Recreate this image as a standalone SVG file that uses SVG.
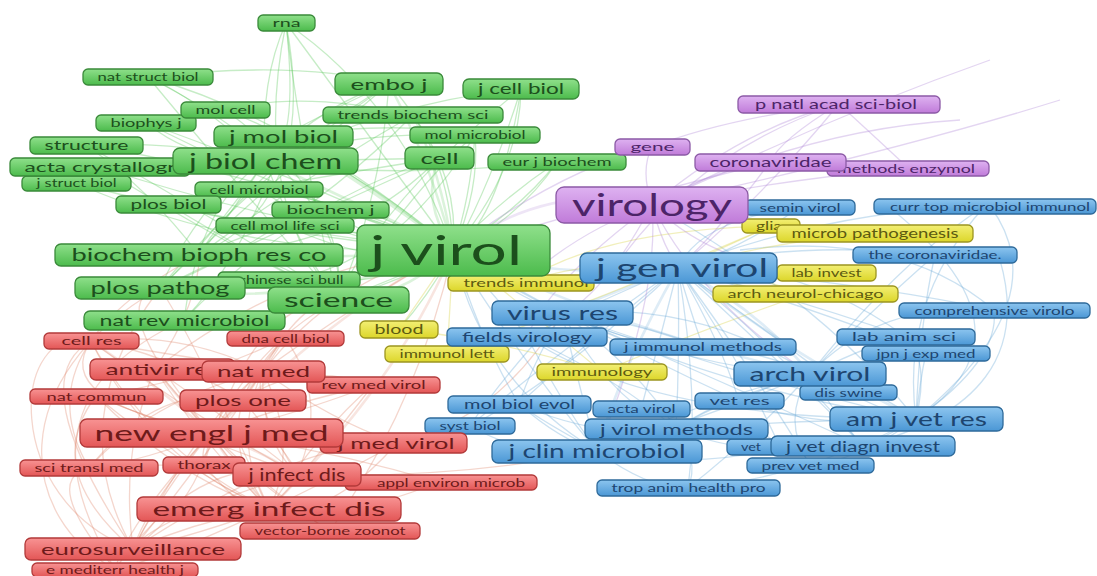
<svg xmlns="http://www.w3.org/2000/svg" width="1097" height="576" viewBox="0 0 1097 576">
<defs>
<linearGradient id="gg" x1="0" y1="0" x2="0" y2="1"><stop offset="0" stop-color="#8fe08b"/><stop offset="1" stop-color="#4cbb4c"/></linearGradient>
<linearGradient id="gr" x1="0" y1="0" x2="0" y2="1"><stop offset="0" stop-color="#f89393"/><stop offset="1" stop-color="#e35656"/></linearGradient>
<linearGradient id="gb" x1="0" y1="0" x2="0" y2="1"><stop offset="0" stop-color="#8cc5ef"/><stop offset="1" stop-color="#4b97d5"/></linearGradient>
<linearGradient id="gy" x1="0" y1="0" x2="0" y2="1"><stop offset="0" stop-color="#f3ef74"/><stop offset="1" stop-color="#dcd62a"/></linearGradient>
<linearGradient id="gp" x1="0" y1="0" x2="0" y2="1"><stop offset="0" stop-color="#deb2f1"/><stop offset="1" stop-color="#c07bd9"/></linearGradient>
</defs>
<style>
text{font-family:Lato,"Open Sans","Liberation Sans",sans-serif;text-anchor:middle}
rect{stroke-width:1.3}
.g rect{fill:url(#gg);stroke:#3a8a3a}.g text{fill:#1c4f1c}
.r rect{fill:url(#gr);stroke:#b23a3a}.r text{fill:#6e1a1a}
.b rect{fill:url(#gb);stroke:#2e6a9a}.b text{fill:#1d4570}
.y rect{fill:url(#gy);stroke:#9c9520}.y text{fill:#5c5a10}
.p rect{fill:url(#gp);stroke:#8c5aa6}.p text{fill:#4c2468}
#edges path{fill:none;stroke-width:1.3;stroke-opacity:0.35}
#edges .eg{stroke:#5cc85c}#edges .er{stroke:#e08a70}#edges .eb{stroke:#6aa8d8}#edges .ey{stroke:#d8d040}#edges .ep{stroke:#b088d8}
#edges .w{stroke-width:2.6;stroke-opacity:0.22}
</style>
<rect width="1097" height="576" fill="#ffffff"/>
<g id="edges">
<g class="eg">
<path d="M453 250 Q380 150 286 23"/><path d="M453 250 Q300 120 148 77"/><path class="w" d="M453 250 Q430 160 389 84"/><path d="M453 250 Q520 170 521 89"/>
<path d="M453 250 Q330 150 225 110"/><path d="M453 250 Q280 170 146 123"/><path class="w" d="M453 250 Q440 170 413 115"/><path d="M453 250 Q480 190 475 135"/>
<path d="M453 250 Q250 170 86 145"/><path class="w" d="M453 250 Q360 180 283 136"/><path class="w" d="M453 250 Q350 200 265 161"/><path d="M453 250 Q260 220 100 167"/>
<path class="w" d="M453 250 Q420 200 439 158"/><path d="M453 250 Q520 210 557 162"/><path d="M453 250 Q250 230 76 183"/><path d="M453 250 Q340 200 259 189"/>
<path d="M453 250 Q300 240 168 204"/><path d="M453 250 Q380 220 330 210"/><path class="w" d="M453 250 Q350 260 199 255"/><path d="M453 250 Q380 290 289 280"/>
<path class="w" d="M453 250 Q300 310 160 288"/><path class="w" d="M453 250 Q400 300 338 300"/><path d="M453 250 Q300 330 184 320"/><path d="M453 250 Q360 230 285 225"/>
<path d="M265 161 Q200 100 148 77"/><path d="M265 161 Q260 80 286 23"/><path d="M265 161 Q330 100 389 84"/><path d="M265 161 Q400 100 521 89"/>
<path d="M265 161 Q350 130 475 135"/><path d="M265 161 Q350 160 439 158"/><path d="M265 161 Q170 140 86 145"/><path d="M265 161 Q180 180 100 167"/>
<path d="M265 161 Q220 230 199 255"/><path d="M265 161 Q210 240 160 288"/><path d="M265 161 Q300 250 338 300"/><path d="M265 161 Q380 180 557 162"/>
<path d="M286 23 Q250 200 338 300"/><path d="M286 23 Q300 150 265 161"/><path d="M521 89 Q470 250 399 329"/><path d="M521 89 Q500 220 453 250"/>
<path d="M389 84 Q380 200 338 300"/><path d="M389 84 Q250 200 160 288"/><path d="M283 136 Q250 250 184 320"/><path d="M283 136 Q220 180 146 123"/>
<path d="M338 300 Q250 240 199 255"/><path d="M338 300 Q220 220 86 145"/><path d="M439 158 Q350 250 199 255"/><path d="M413 115 Q300 230 160 288"/>
<path d="M148 77 Q300 60 389 84"/><path d="M225 110 Q300 90 413 115"/><path d="M557 162 Q500 250 338 300"/><path d="M475 135 Q400 260 289 280"/>
<path d="M338 300 Q300 150 286 23"/><path d="M338 300 Q380 200 521 89"/><path d="M338 300 Q420 180 475 135"/><path d="M338 300 Q250 200 148 77"/>
<path d="M338 300 Q200 230 100 167"/><path d="M338 300 Q260 260 168 204"/><path d="M160 288 Q200 200 283 136"/><path d="M160 288 Q250 180 389 84"/>
<path d="M160 288 Q300 220 439 158"/><path d="M199 255 Q250 170 389 84"/><path d="M199 255 Q300 180 413 115"/><path d="M199 255 Q150 190 86 145"/>
<path d="M199 255 Q280 220 330 210"/><path d="M184 320 Q300 200 439 158"/><path d="M184 320 Q200 200 265 161"/><path d="M283 136 Q350 100 389 84"/>
<path d="M283 136 Q400 120 475 135"/><path d="M283 136 Q400 200 453 250"/><path d="M389 84 Q450 150 453 250"/><path d="M413 115 Q460 180 453 250"/>
<path d="M475 135 Q470 200 453 250"/><path d="M557 162 Q500 200 453 250"/><path d="M168 204 Q300 180 439 158"/><path d="M259 189 Q350 250 453 250"/>
<path d="M330 210 Q400 260 453 250"/><path d="M285 225 Q380 270 453 250"/><path d="M146 123 Q300 200 453 250"/><path d="M76 183 Q250 260 453 250"/>
<path d="M286 23 Q400 100 453 250"/><path d="M286 23 Q320 200 199 255"/><path d="M148 77 Q350 180 338 300"/><path d="M225 110 Q350 200 338 300"/>
</g>
<g class="er">
<path class="w" d="M211 433 Q150 380 91 341"/><path d="M211 433 Q250 380 285 338"/><path class="w" d="M211 433 Q180 400 155 369"/><path class="w" d="M211 433 Q240 400 263 371"/>
<path d="M211 433 Q300 400 373 385"/><path d="M211 433 Q150 420 96 396"/><path d="M211 433 Q150 460 89 468"/><path d="M211 433 Q200 450 204 465"/>
<path class="w" d="M211 433 Q260 450 297 474"/><path d="M211 433 Q330 450 438 482"/><path class="w" d="M211 433 Q240 480 269 509"/><path d="M211 433 Q280 500 330 531"/>
<path d="M211 433 Q150 500 133 549"/><path d="M211 433 Q130 520 115 569"/><path d="M211 433 Q300 420 397 443"/><path d="M269 509 Q150 450 91 341"/>
<path d="M269 509 Q200 420 155 369"/><path d="M269 509 Q180 480 96 396"/><path d="M269 509 Q320 430 373 385"/><path d="M269 509 Q350 470 397 443"/>
<path d="M269 509 Q180 540 133 549"/><path d="M269 509 Q160 560 115 569"/><path d="M269 509 Q200 420 285 338"/><path d="M269 509 Q230 440 263 371"/>
<path d="M297 474 Q200 420 91 341"/><path d="M297 474 Q250 400 263 371"/><path d="M297 474 Q330 400 285 338"/><path d="M297 474 Q150 520 133 549"/>
<path d="M297 474 Q180 460 89 468"/><path class="w" d="M211 433 Q350 300 453 250"/><path class="w" d="M269 509 Q400 380 453 250"/><path d="M133 549 Q60 420 160 288"/>
<path d="M115 569 Q10 400 184 320"/><path d="M89 468 Q20 350 199 255"/><path d="M133 549 Q20 380 91 341"/><path d="M297 474 Q450 480 597 451"/>
<path d="M397 443 Q500 420 562 313"/><path d="M243 400 Q160 350 91 341"/><path d="M243 400 Q300 360 373 385"/><path d="M243 400 Q180 460 133 549"/>
<path d="M243 400 Q320 280 453 250"/><path d="M263 371 Q360 300 453 250"/><path d="M155 369 Q300 260 453 250"/><path d="M330 531 Q420 400 453 250"/>
<path d="M89 468 Q160 380 243 400"/><path d="M96 396 Q200 480 269 509"/><path d="M373 385 Q300 480 269 509"/><path d="M204 465 Q250 300 338 300"/>
<path d="M133 549 Q300 440 397 443"/><path d="M211 433 Q100 300 160 288"/><path d="M115 569 Q200 450 297 474"/><path d="M285 338 Q200 380 96 396"/>
<path d="M263 371 Q180 330 91 341"/><path d="M263 371 Q200 420 133 549"/><path d="M263 371 Q260 440 297 474"/><path d="M263 371 Q300 450 269 509"/>
<path d="M263 371 Q330 420 397 443"/><path d="M155 369 Q120 450 133 549"/><path d="M155 369 Q200 440 269 509"/><path d="M155 369 Q230 420 297 474"/>
<path d="M133 549 Q200 520 269 509"/><path d="M133 549 Q200 500 211 433"/><path d="M133 549 Q40 470 96 396"/><path d="M115 569 Q40 480 89 468"/>
<path d="M89 468 Q150 400 263 371"/><path d="M96 396 Q180 430 297 474"/><path d="M91 341 Q200 360 373 385"/><path d="M91 341 Q150 460 269 509"/>
<path d="M285 338 Q220 440 133 549"/><path d="M373 385 Q280 420 211 433"/><path d="M397 443 Q330 520 269 509"/><path d="M438 482 Q350 520 269 509"/>
<path d="M330 531 Q250 480 211 433"/><path d="M204 465 Q250 520 269 509"/><path d="M243 400 Q300 470 297 474"/><path d="M211 433 Q50 400 91 341"/>
<path d="M133 549 C0 500 10 320 91 341"/><path d="M263 371 Q300 300 338 300"/><path d="M211 433 Q260 340 338 300"/><path d="M155 369 Q200 300 199 255"/>
<path d="M269 509 Q200 350 160 288"/><path d="M115 569 C20 520 0 380 160 288"/>
</g>
<g class="eb">
<path d="M678 268 Q740 250 800 207"/><path d="M678 268 Q830 210 985 206"/><path d="M678 268 Q800 240 935 255"/><path class="w" d="M678 268 Q620 290 562 313"/>
<path d="M678 268 Q850 280 994 310"/><path d="M678 268 Q600 300 527 337"/><path d="M678 268 Q800 300 906 337"/><path d="M678 268 Q690 310 703 347"/>
<path d="M678 268 Q820 310 926 353"/><path class="w" d="M678 268 Q760 310 810 374"/><path d="M678 268 Q780 340 848 392"/><path d="M678 268 Q590 340 519 404"/>
<path d="M678 268 Q660 340 641 409"/><path d="M678 268 Q720 340 739 401"/><path class="w" d="M678 268 Q800 360 916 419"/><path d="M678 268 Q560 350 470 426"/>
<path d="M678 268 Q680 350 676 429"/><path class="w" d="M678 268 Q620 370 597 451"/><path d="M678 268 Q740 360 780 447"/><path d="M678 268 Q790 370 863 446"/>
<path d="M678 268 Q760 380 810 465"/><path d="M678 268 Q700 400 688 488"/><path d="M810 374 Q880 300 994 310"/><path d="M810 374 Q880 340 906 337"/>
<path d="M810 374 Q860 380 916 419"/><path d="M810 374 Q840 420 863 446"/><path d="M810 374 Q780 420 810 465"/><path d="M810 374 Q700 420 597 451"/>
<path d="M810 374 Q720 400 676 429"/><path d="M810 374 Q700 370 562 313"/><path d="M810 374 Q900 260 985 206"/><path d="M810 374 Q750 440 688 488"/>
<path class="w" d="M453 250 Q560 280 678 268"/><path d="M453 250 Q520 300 562 313"/><path d="M453 250 Q500 300 527 337"/><path class="w" d="M453 250 Q620 330 810 374"/>
<path d="M453 250 Q520 360 597 451"/><path d="M453 250 Q480 340 519 404"/><path d="M453 250 Q650 380 916 419"/><path d="M453 250 Q600 350 703 347"/>
<path d="M562 313 Q580 390 597 451"/><path d="M562 313 Q640 370 676 429"/><path d="M562 313 Q720 380 863 446"/><path d="M916 419 Q1050 330 880 200"/>
<path d="M994 310 Q900 230 740 250"/><path d="M916 419 Q820 300 652 205"/><path d="M863 446 Q760 330 678 268"/><path d="M597 451 Q480 380 453 250"/>
<path d="M527 337 Q650 420 916 419"/><path d="M676 429 Q800 420 916 419"/><path d="M935 255 Q850 330 810 374"/><path d="M906 337 Q800 260 678 268"/>
<path d="M688 488 Q800 480 916 419"/><path d="M470 426 Q560 380 678 268"/><path d="M519 404 Q600 440 676 429"/><path d="M739 401 Q820 430 916 419"/>
<path d="M562 313 Q530 370 519 404"/><path d="M562 313 Q500 380 470 426"/><path d="M562 313 Q600 380 641 409"/><path d="M562 313 Q650 360 739 401"/>
<path d="M562 313 Q700 300 810 374"/><path d="M562 313 Q750 380 916 419"/><path d="M562 313 Q630 320 703 347"/><path d="M597 451 Q640 420 676 429"/>
<path d="M597 451 Q700 470 780 447"/><path d="M597 451 Q650 490 688 488"/><path d="M597 451 Q700 400 810 374"/><path d="M597 451 Q540 420 519 404"/>
<path d="M916 419 Q880 440 863 446"/><path d="M916 419 Q860 460 810 465"/><path d="M916 419 Q920 380 926 353"/><path d="M916 419 Q930 360 906 337"/>
<path d="M916 419 Q1000 360 994 310"/><path d="M916 419 Q920 320 935 255"/><path d="M916 419 Q900 300 985 206"/><path d="M676 429 Q750 460 863 446"/>
<path d="M676 429 Q700 460 688 488"/><path d="M676 429 Q760 420 780 447"/><path d="M676 429 Q720 400 739 401"/><path d="M848 392 Q880 410 916 419"/>
<path d="M739 401 Q780 380 810 374"/><path d="M703 347 Q760 350 810 374"/><path d="M527 337 Q560 400 597 451"/><path d="M527 337 Q620 380 676 429"/>
<path d="M519 404 Q560 440 597 451"/><path d="M470 426 Q530 460 597 451"/><path d="M678 268 Q700 220 800 207"/><path d="M863 446 Q1040 400 1000 260"/>
<path d="M916 419 Q1060 300 990 206"/>
</g>
<g class="ey">
<path d="M453 250 Q490 270 521 283"/><path d="M453 250 Q420 300 399 329"/><path d="M453 250 Q450 310 447 354"/><path d="M453 250 Q540 320 602 372"/>
<path d="M678 268 Q740 240 771 226"/><path d="M678 268 Q780 240 875 233"/><path d="M678 268 Q750 280 826 273"/><path d="M678 268 Q740 290 805 294"/>
<path d="M399 329 Q500 340 602 372"/><path d="M521 283 Q650 240 805 294"/><path d="M447 354 Q600 300 771 226"/><path d="M602 372 Q700 330 805 294"/>
<path d="M521 283 Q600 230 771 226"/>
</g>
<g class="ep">
<path d="M652 205 Q740 130 839 104"/><path d="M652 205 Q640 170 652 147"/><path d="M652 205 Q710 170 770 162"/><path d="M652 205 Q780 180 908 168"/>
<path class="w" d="M453 250 Q550 180 652 205"/><path d="M652 205 Q660 240 678 268"/><path d="M652 205 Q900 150 1060 100"/><path d="M652 205 Q800 130 960 120"/>
<path d="M839 104 Q700 150 620 260"/><path d="M652 205 Q600 300 562 313"/><path d="M652 205 Q700 300 810 374"/><path d="M839 104 Q760 200 678 268"/>
<path d="M652 147 Q560 170 453 250"/><path d="M770 162 Q620 200 453 250"/><path d="M652 205 Q820 120 990 60"/><path d="M652 205 Q660 300 597 451"/>
<path d="M652 205 Q580 230 521 283"/><path d="M652 205 Q550 280 527 337"/><path d="M652 205 Q720 270 826 273"/><path d="M839 104 Q900 160 908 168"/>
<path d="M839 104 Q780 140 770 162"/><path d="M652 147 Q720 120 839 104"/><path d="M770 162 Q720 230 678 268"/>
</g>
</g>
<g id="nodes">
<g id="n-rna" class="g"><rect x="258" y="15" width="57" height="16" rx="5"/><text x="286.5" y="27.2" font-size="12" textLength="28" lengthAdjust="spacingAndGlyphs">rna</text></g>
<g id="n-nat-struct-biol" class="g"><rect x="83" y="69" width="130" height="16" rx="5"/><text x="148" y="81.2" font-size="12" textLength="101" lengthAdjust="spacingAndGlyphs">nat struct biol</text></g>
<g id="n-biophys-j" class="g"><rect x="96" y="115" width="100" height="16" rx="5"/><text x="146" y="127.2" font-size="12" textLength="71" lengthAdjust="spacingAndGlyphs">biophys j</text></g>
<g id="n-mol-cell" class="g"><rect x="181" y="102" width="89" height="16" rx="5"/><text x="225.5" y="114.2" font-size="12" textLength="60" lengthAdjust="spacingAndGlyphs">mol cell</text></g>
<g id="n-trends-biochem-sci" class="g"><rect x="323" y="107" width="180" height="16" rx="5"/><text x="413" y="119.2" font-size="12" textLength="151" lengthAdjust="spacingAndGlyphs">trends biochem sci</text></g>
<g id="n-mol-microbiol" class="g"><rect x="410" y="127" width="130" height="16" rx="5"/><text x="475" y="139.2" font-size="12" textLength="101" lengthAdjust="spacingAndGlyphs">mol microbiol</text></g>
<g id="n-structure" class="g"><rect x="30" y="137" width="113" height="17" rx="5"/><text x="86.5" y="149.9" font-size="12.5" textLength="84" lengthAdjust="spacingAndGlyphs">structure</text></g>
<g id="n-eur-j-biochem" class="g"><rect x="488" y="154" width="138" height="16" rx="5"/><text x="557" y="166.2" font-size="12" textLength="109" lengthAdjust="spacingAndGlyphs">eur j biochem</text></g>
<g id="n-j-struct-biol" class="g"><rect x="22" y="176" width="109" height="15" rx="5"/><text x="76.5" y="187.4" font-size="11" textLength="80" lengthAdjust="spacingAndGlyphs">j struct biol</text></g>
<g id="n-cell-microbiol" class="g"><rect x="195" y="182" width="128" height="15" rx="5"/><text x="259" y="193.5" font-size="11.5" textLength="99" lengthAdjust="spacingAndGlyphs">cell microbiol</text></g>
<g id="n-plos-biol" class="g"><rect x="116" y="196" width="105" height="17" rx="5"/><text x="168.5" y="208.9" font-size="12.5" textLength="76" lengthAdjust="spacingAndGlyphs">plos biol</text></g>
<g id="n-biochem-j" class="g"><rect x="272" y="202" width="117" height="16" rx="5"/><text x="330.5" y="214.2" font-size="12" textLength="88" lengthAdjust="spacingAndGlyphs">biochem j</text></g>
<g id="n-cell-mol-life-sci" class="g"><rect x="216" y="218" width="138" height="15" rx="5"/><text x="285" y="229.5" font-size="11.5" textLength="109" lengthAdjust="spacingAndGlyphs">cell mol life sci</text></g>
<g id="n-chinese-sci-bull" class="g"><rect x="218" y="272" width="142" height="16" rx="5"/><text x="291" y="284.2" font-size="12" textLength="105" lengthAdjust="spacingAndGlyphs">chinese sci bull</text></g>
<g id="n-cell-res" class="r"><rect x="44" y="333" width="95" height="16" rx="5"/><text x="91.5" y="345.2" font-size="12" textLength="60" lengthAdjust="spacingAndGlyphs">cell res</text></g>
<g id="n-dna-cell-biol" class="r"><rect x="227" y="331" width="117" height="15" rx="5"/><text x="285.5" y="342.5" font-size="11.5" textLength="88" lengthAdjust="spacingAndGlyphs">dna cell biol</text></g>
<g id="n-rev-med-virol" class="r"><rect x="307" y="377" width="133" height="16" rx="5"/><text x="373.5" y="389.2" font-size="12" textLength="104" lengthAdjust="spacingAndGlyphs">rev med virol</text></g>
<g id="n-nat-commun" class="r"><rect x="30" y="389" width="133" height="15" rx="5"/><text x="96.5" y="400.5" font-size="11.5" textLength="100" lengthAdjust="spacingAndGlyphs">nat commun</text></g>
<g id="n-sci-transl-med" class="r"><rect x="20" y="460" width="138" height="16" rx="5"/><text x="89" y="472.2" font-size="12" textLength="109" lengthAdjust="spacingAndGlyphs">sci transl med</text></g>
<g id="n-thorax" class="r"><rect x="163" y="457" width="82" height="16" rx="5"/><text x="204" y="469.2" font-size="12" textLength="53" lengthAdjust="spacingAndGlyphs">thorax</text></g>
<g id="n-appl-environ-microb" class="r"><rect x="345" y="475" width="192" height="15" rx="5"/><text x="451" y="486.5" font-size="11.5" textLength="148" lengthAdjust="spacingAndGlyphs">appl environ microb</text></g>
<g id="n-vector-borne-zoonot" class="r"><rect x="240" y="523" width="180" height="16" rx="5"/><text x="330" y="535.2" font-size="12" textLength="151" lengthAdjust="spacingAndGlyphs">vector-borne zoonot</text></g>
<g id="n-e-mediterr-health-j" class="r"><rect x="32" y="563" width="166" height="14" rx="5"/><text x="115" y="573.9" font-size="11" textLength="138" lengthAdjust="spacingAndGlyphs">e mediterr health j</text></g>
<g id="n-glia" class="y"><rect x="742" y="219" width="58" height="14" rx="5"/><text x="769" y="229.9" font-size="11" textLength="26" lengthAdjust="spacingAndGlyphs">glia</text></g>
<g id="n-microb-pathogenesis" class="y"><rect x="777" y="225" width="196" height="17" rx="5"/><text x="875" y="237.9" font-size="12.5" textLength="167" lengthAdjust="spacingAndGlyphs">microb pathogenesis</text></g>
<g id="n-trends-immunol" class="y"><rect x="448" y="275" width="146" height="16" rx="5"/><text x="526" y="287.2" font-size="12" textLength="125" lengthAdjust="spacingAndGlyphs">trends immunol</text></g>
<g id="n-lab-invest" class="y"><rect x="777" y="265" width="99" height="16" rx="5"/><text x="826.5" y="277.2" font-size="12" textLength="70" lengthAdjust="spacingAndGlyphs">lab invest</text></g>
<g id="n-arch-neurol-chicago" class="y"><rect x="713" y="286" width="185" height="16" rx="5"/><text x="805.5" y="298.2" font-size="12" textLength="156" lengthAdjust="spacingAndGlyphs">arch neurol-chicago</text></g>
<g id="n-blood" class="y"><rect x="360" y="321" width="78" height="17" rx="5"/><text x="399" y="333.9" font-size="12.5" textLength="49" lengthAdjust="spacingAndGlyphs">blood</text></g>
<g id="n-immunol-lett" class="y"><rect x="385" y="346" width="124" height="16" rx="5"/><text x="447" y="358.2" font-size="12" textLength="95" lengthAdjust="spacingAndGlyphs">immunol lett</text></g>
<g id="n-immunology" class="y"><rect x="537" y="364" width="130" height="16" rx="5"/><text x="602" y="376.2" font-size="12" textLength="101" lengthAdjust="spacingAndGlyphs">immunology</text></g>
<g id="n-p-natl-acad-sci-biol" class="p"><rect x="738" y="96" width="202" height="17" rx="5"/><text x="836" y="108.9" font-size="12.5" textLength="162" lengthAdjust="spacingAndGlyphs">p natl acad sci-biol</text></g>
<g id="n-gene" class="p"><rect x="615" y="139" width="75" height="16" rx="5"/><text x="652.5" y="151.2" font-size="12" textLength="44" lengthAdjust="spacingAndGlyphs">gene</text></g>
<g id="n-methods-enzymol" class="p"><rect x="827" y="161" width="162" height="15" rx="5"/><text x="906" y="172.5" font-size="11.5" textLength="138" lengthAdjust="spacingAndGlyphs">methods enzymol</text></g>
<g id="n-coronaviridae" class="p"><rect x="695" y="154" width="151" height="17" rx="5"/><text x="770.5" y="166.9" font-size="12.5" textLength="122" lengthAdjust="spacingAndGlyphs">coronaviridae</text></g>
<g id="n-semin-virol" class="b"><rect x="745" y="200" width="110" height="15" rx="5"/><text x="800" y="211.5" font-size="11.5" textLength="81" lengthAdjust="spacingAndGlyphs">semin virol</text></g>
<g id="n-curr-top-microbiol-immunol" class="b"><rect x="874" y="199" width="222" height="15" rx="5"/><text x="990" y="210.5" font-size="11.5" textLength="200" lengthAdjust="spacingAndGlyphs">curr top microbiol immunol</text></g>
<g id="n-the-coronaviridae" class="b"><rect x="853" y="247" width="164" height="16" rx="5"/><text x="935" y="259.2" font-size="12" textLength="133" lengthAdjust="spacingAndGlyphs">the coronaviridae.</text></g>
<g id="n-comprehensive-virolo" class="b"><rect x="899" y="303" width="191" height="15" rx="5"/><text x="994.5" y="314.5" font-size="11.5" textLength="160" lengthAdjust="spacingAndGlyphs">comprehensive virolo</text></g>
<g id="n-lab-anim-sci" class="b"><rect x="837" y="329" width="138" height="16" rx="5"/><text x="904" y="341.2" font-size="12" textLength="104" lengthAdjust="spacingAndGlyphs">lab anim sci</text></g>
<g id="n-j-immunol-methods" class="b"><rect x="610" y="339" width="186" height="16" rx="5"/><text x="703" y="351.2" font-size="12" textLength="158" lengthAdjust="spacingAndGlyphs">j immunol methods</text></g>
<g id="n-jpn-j-exp-med" class="b"><rect x="862" y="346" width="128" height="15" rx="5"/><text x="926" y="357.5" font-size="11.5" textLength="99" lengthAdjust="spacingAndGlyphs">jpn j exp med</text></g>
<g id="n-dis-swine" class="b"><rect x="800" y="385" width="97" height="15" rx="5"/><text x="848.5" y="396.5" font-size="11.5" textLength="68" lengthAdjust="spacingAndGlyphs">dis swine</text></g>
<g id="n-mol-biol-evol" class="b"><rect x="448" y="396" width="143" height="17" rx="5"/><text x="519.5" y="408.9" font-size="12.5" textLength="111" lengthAdjust="spacingAndGlyphs">mol biol evol</text></g>
<g id="n-acta-virol" class="b"><rect x="593" y="401" width="97" height="16" rx="5"/><text x="641.5" y="413.2" font-size="12" textLength="68" lengthAdjust="spacingAndGlyphs">acta virol</text></g>
<g id="n-vet-res" class="b"><rect x="695" y="393" width="89" height="16" rx="5"/><text x="739.5" y="405.2" font-size="12" textLength="60" lengthAdjust="spacingAndGlyphs">vet res</text></g>
<g id="n-syst-biol" class="b"><rect x="425" y="418" width="90" height="16" rx="5"/><text x="470" y="430.2" font-size="12" textLength="61" lengthAdjust="spacingAndGlyphs">syst biol</text></g>
<g id="n-vet" class="b"><rect x="727" y="439" width="100" height="16" rx="5"/><text x="751" y="451.2" font-size="12" textLength="20" lengthAdjust="spacingAndGlyphs">vet</text></g>
<g id="n-prev-vet-med" class="b"><rect x="747" y="458" width="127" height="15" rx="5"/><text x="810.5" y="469.5" font-size="11.5" textLength="98" lengthAdjust="spacingAndGlyphs">prev vet med</text></g>
<g id="n-trop-anim-health-pro" class="b"><rect x="597" y="480" width="183" height="16" rx="5"/><text x="688.5" y="492.2" font-size="12" textLength="154" lengthAdjust="spacingAndGlyphs">trop anim health pro</text></g>
<g id="n-acta-crystallogr" class="g"><rect x="10" y="158" width="180" height="18" rx="5"/><text x="100" y="171.9" font-size="14" textLength="151" lengthAdjust="spacingAndGlyphs">acta crystallogr</text></g>
<g id="n-fields-virology" class="b"><rect x="447" y="328" width="160" height="18" rx="5"/><text x="527" y="341.9" font-size="14" textLength="130" lengthAdjust="spacingAndGlyphs">fields virology</text></g>
<g id="n-nat-rev-microbiol" class="g"><rect x="84" y="311" width="201" height="19" rx="6"/><text x="184.5" y="325.8" font-size="15" textLength="170" lengthAdjust="spacingAndGlyphs">nat rev microbiol</text></g>
<g id="n-j-cell-biol" class="g"><rect x="463" y="79" width="116" height="20" rx="6"/><text x="521" y="94.3" font-size="15" textLength="86" lengthAdjust="spacingAndGlyphs">j cell biol</text></g>
<g id="n-j-med-virol" class="r"><rect x="320" y="433" width="147" height="20" rx="6"/><text x="396" y="448.6" font-size="16" textLength="117" lengthAdjust="spacingAndGlyphs">j med virol</text></g>
<g id="n-j-virol-methods" class="b"><rect x="585" y="419" width="183" height="20" rx="6"/><text x="676.5" y="434.6" font-size="16" textLength="153" lengthAdjust="spacingAndGlyphs">j virol methods</text></g>
<g id="n-j-vet-diagn-invest" class="b"><rect x="771" y="436" width="184" height="20" rx="6"/><text x="863" y="451.6" font-size="16" textLength="154" lengthAdjust="spacingAndGlyphs">j vet diagn invest</text></g>
<g id="n-j-mol-biol" class="g"><rect x="214" y="126" width="139" height="21" rx="6"/><text x="283.5" y="142.5" font-size="17" textLength="109" lengthAdjust="spacingAndGlyphs">j mol biol</text></g>
<g id="n-antivir-res" class="r"><rect x="90" y="359" width="145" height="21" rx="6"/><text x="162.5" y="375.1" font-size="16" textLength="114" lengthAdjust="spacingAndGlyphs">antivir res</text></g>
<g id="n-nat-med" class="r"><rect x="202" y="361" width="123" height="21" rx="6"/><text x="263.5" y="377.1" font-size="16" textLength="93" lengthAdjust="spacingAndGlyphs">nat med</text></g>
<g id="n-plos-one" class="r"><rect x="180" y="390" width="126" height="21" rx="6"/><text x="243" y="406.1" font-size="16" textLength="96" lengthAdjust="spacingAndGlyphs">plos one</text></g>
<g id="n-embo-j" class="g"><rect x="335" y="73" width="108" height="22" rx="6"/><text x="389" y="89.6" font-size="16" textLength="77" lengthAdjust="spacingAndGlyphs">embo j</text></g>
<g id="n-cell" class="g"><rect x="405" y="147" width="69" height="22" rx="6"/><text x="439.5" y="163.6" font-size="16" textLength="38" lengthAdjust="spacingAndGlyphs">cell</text></g>
<g id="n-biochem-bioph-res-co" class="g"><rect x="55" y="244" width="288" height="22" rx="6"/><text x="199" y="261.3" font-size="18" textLength="255" lengthAdjust="spacingAndGlyphs">biochem bioph res co</text></g>
<g id="n-plos-pathog" class="g"><rect x="75" y="277" width="170" height="22" rx="6"/><text x="160" y="294.3" font-size="18" textLength="139" lengthAdjust="spacingAndGlyphs">plos pathog</text></g>
<g id="n-eurosurveillance" class="r"><rect x="25" y="538" width="216" height="22" rx="6"/><text x="133" y="554.6" font-size="16" textLength="184" lengthAdjust="spacingAndGlyphs">eurosurveillance</text></g>
<g id="n-j-infect-dis" class="r"><rect x="233" y="463" width="128" height="23" rx="6"/><text x="297" y="480.8" font-size="18" textLength="97" lengthAdjust="spacingAndGlyphs">j infect dis</text></g>
<g id="n-virus-res" class="b"><rect x="492" y="301" width="141" height="24" rx="6"/><text x="562.5" y="320" font-size="20" textLength="111" lengthAdjust="spacingAndGlyphs">virus res</text></g>
<g id="n-arch-virol" class="b"><rect x="734" y="362" width="152" height="24" rx="6"/><text x="810" y="381" font-size="20" textLength="121" lengthAdjust="spacingAndGlyphs">arch virol</text></g>
<g id="n-am-j-vet-res" class="b"><rect x="830" y="407" width="173" height="24" rx="6"/><text x="916.5" y="426" font-size="20" textLength="141" lengthAdjust="spacingAndGlyphs">am j vet res</text></g>
<g id="n-j-clin-microbiol" class="b"><rect x="492" y="440" width="210" height="23" rx="6"/><text x="597" y="458.2" font-size="19" textLength="177" lengthAdjust="spacingAndGlyphs">j clin microbiol</text></g>
<g id="n-emerg-infect-dis" class="r"><rect x="137" y="497" width="264" height="24" rx="6"/><text x="269" y="516" font-size="20" textLength="233" lengthAdjust="spacingAndGlyphs">emerg infect dis</text></g>
<g id="n-j-biol-chem" class="g"><rect x="173" y="148" width="185" height="26" rx="7"/><text x="265.5" y="168.7" font-size="22" textLength="153" lengthAdjust="spacingAndGlyphs">j biol chem</text></g>
<g id="n-science" class="g"><rect x="268" y="287" width="141" height="26" rx="7"/><text x="338.5" y="307" font-size="20" textLength="109" lengthAdjust="spacingAndGlyphs">science</text></g>
<g id="n-new-engl-j-med" class="r"><rect x="80" y="419" width="263" height="28" rx="7"/><text x="211.5" y="440.7" font-size="22" textLength="234" lengthAdjust="spacingAndGlyphs">new engl j med</text></g>
<g id="n-j-gen-virol" class="b"><rect x="580" y="253" width="197" height="30" rx="7"/><text x="682" y="276.8" font-size="25" textLength="172" lengthAdjust="spacingAndGlyphs">j gen virol</text></g>
<g id="n-virology" class="p"><rect x="556" y="187" width="192" height="36" rx="8"/><text x="652" y="215.5" font-size="30" textLength="160" lengthAdjust="spacingAndGlyphs">virology</text></g>
<g id="n-j-virol" class="g"><rect x="357" y="225" width="193" height="51" rx="8"/><text x="446" y="264.5" font-size="40" textLength="152" lengthAdjust="spacingAndGlyphs">j virol</text></g>
</g>
</svg>
